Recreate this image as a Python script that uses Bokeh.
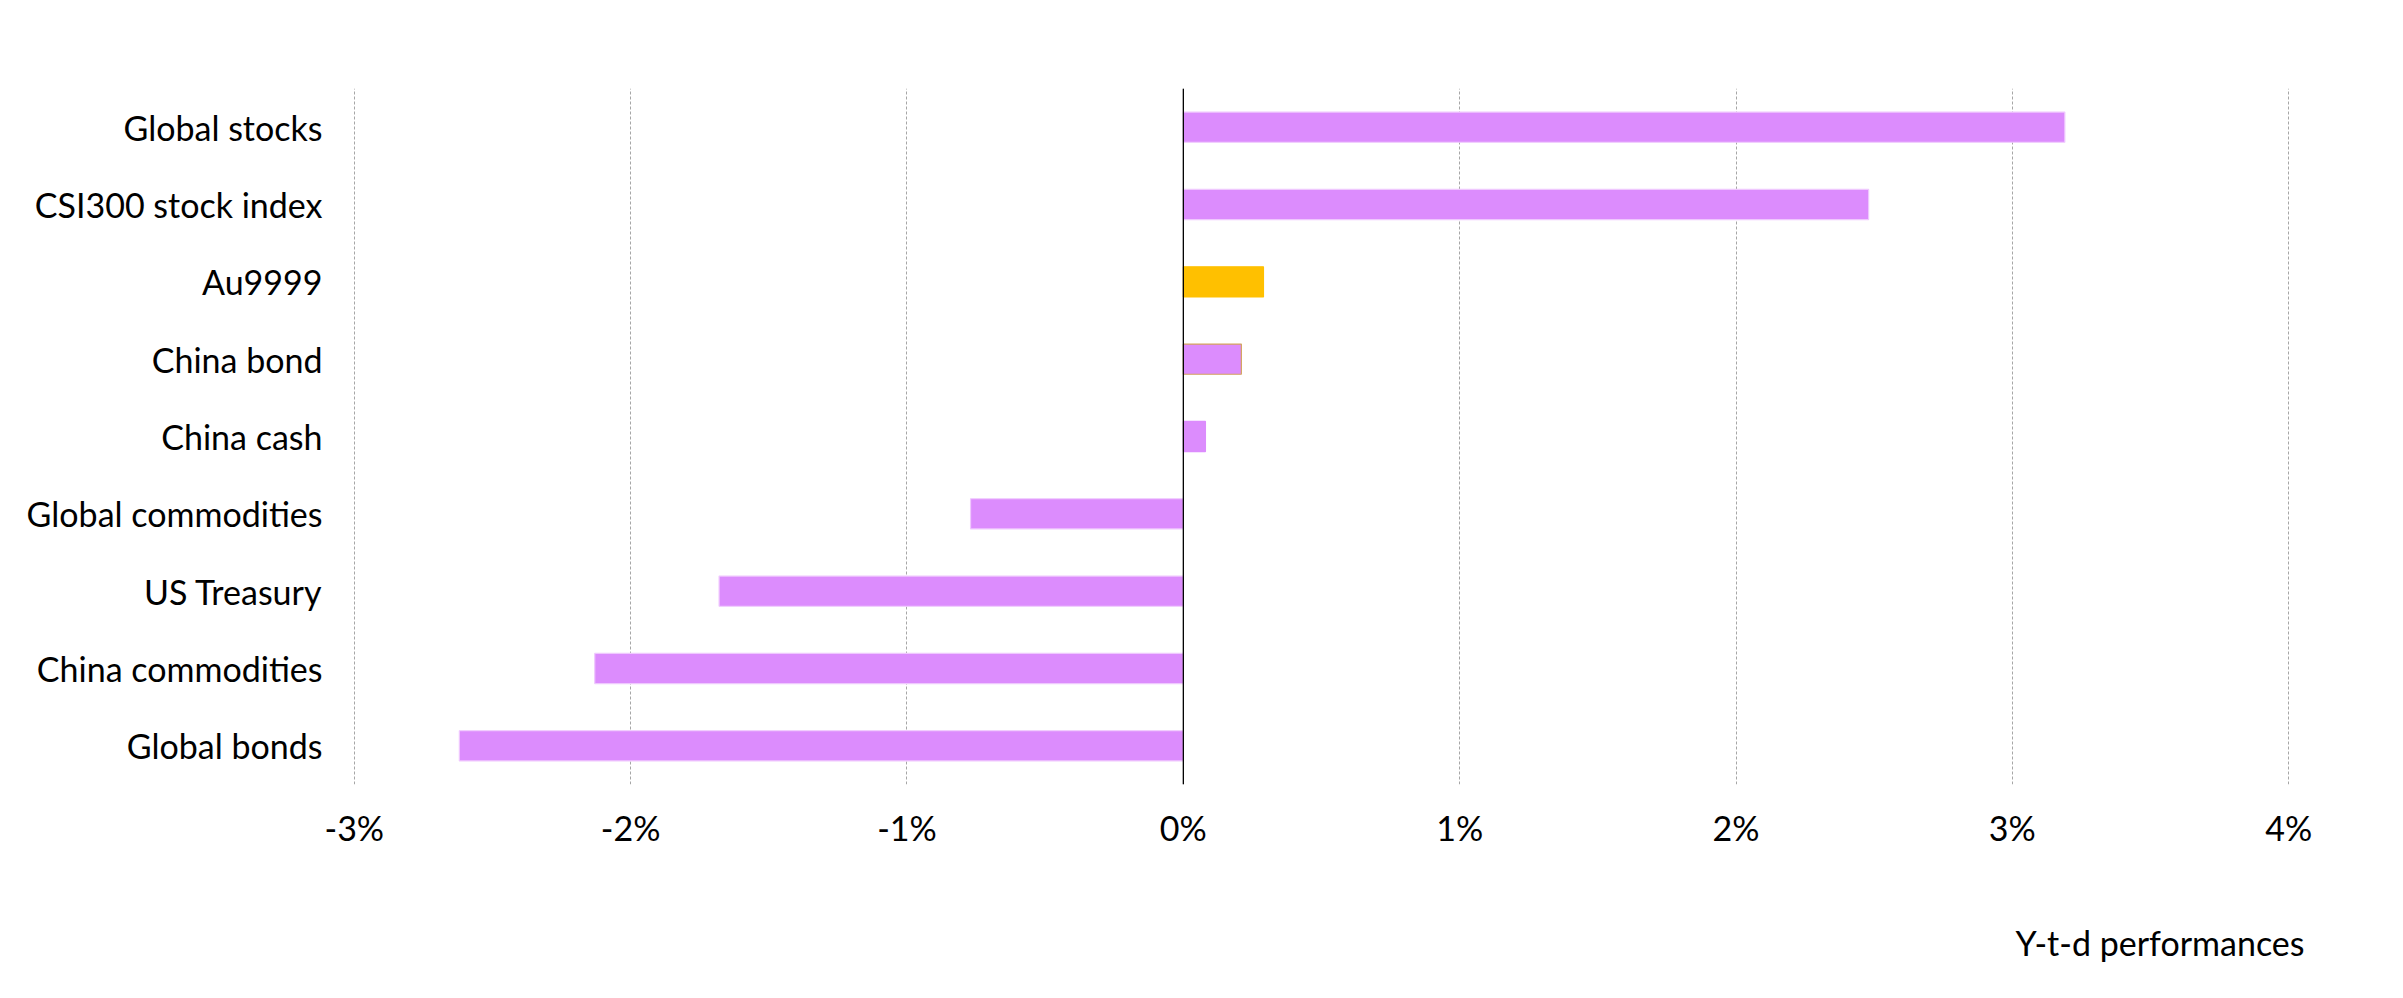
from bokeh.plotting import figure
from bokeh.models import ColumnDataSource, FactorRange, FixedTicker, Span, Title
from bokeh.embed import file_html
from bokeh.resources import INLINE

categories = ["Global stocks", "CSI300 stock index", "Au9999", "China bond", "China cash",
              "Global commodities", "US Treasury", "China commodities", "Global bonds"]
values = [3.19, 2.48, 0.29, 0.21, 0.08, -0.77, -1.68, -2.13, -2.62]
fill_colors = ["#DC8CFD", "#DC8CFD", "#FFC000", "#DC8CFD", "#DC8CFD",
               "#DC8CFD", "#DC8CFD", "#DC8CFD", "#DC8CFD"]
edge_colors = ["#EFC8FE", "#EFC8FE", "#FFC000", "#D4A35E", "#DC8CFD",
               "#EFC8FE", "#EFC8FE", "#EFC8FE", "#EFC8FE"]
tick_values = [-3, -2, -1, 0, 1, 2, 3, 4]
tick_labels = ["-3%", "-2%", "-1%", "0%", "1%", "2%", "3%", "4%"]
axis_title = "Y-t-d performances"

FONT = "Lato"
FS = "34px"

source = ColumnDataSource(dict(cat=categories, val=values, fill=fill_colors, edge=edge_colors))

p = figure(width=2387, height=982, output_backend="svg", toolbar_location=None,
           y_range=FactorRange(factors=list(reversed(categories))),
           x_range=(-3.003, 4.003),
           min_border_left=353, min_border_right=98, min_border_top=88, min_border_bottom=198)

p.hbar(y="cat", left=0, right="val", height=0.39, source=source,
       fill_color="fill", line_color="edge", line_width=1.2)

p.add_layout(Span(location=0, dimension="height", line_color="#000000", line_width=1.3))

p.outline_line_color = None
p.background_fill_color = "white"
p.border_fill_color = "white"

p.ygrid.grid_line_color = None
p.xgrid.grid_line_color = "#A6A6A6"
p.xgrid.grid_line_dash = "3 2"
p.xgrid.grid_line_width = 1
p.xgrid.ticker = FixedTicker(ticks=tick_values)

xa = p.xaxis[0]
xa.ticker = FixedTicker(ticks=tick_values)
xa.major_label_overrides = {v: l for v, l in zip(tick_values, tick_labels)}
xa.axis_line_color = None
xa.major_tick_line_color = None
xa.minor_tick_line_color = None
xa.major_tick_out = 0
xa.major_tick_in = 0
xa.major_label_text_font = FONT
xa.major_label_text_font_size = FS
xa.major_label_text_color = "#000000"
xa.major_label_standoff = 22

ya = p.yaxis[0]
ya.axis_line_color = None
ya.major_tick_line_color = None
ya.minor_tick_line_color = None
ya.major_tick_out = 0
ya.major_tick_in = 0
ya.major_label_text_font = FONT
ya.major_label_text_font_size = FS
ya.major_label_text_color = "#000000"
ya.major_label_standoff = 31

# blank spacer panel between the tick labels and the axis title
p.add_layout(Title(text=" ", text_font=FONT, text_font_size=FS, standoff=25), "below")
p.add_layout(Title(text=axis_title, align="right", text_font=FONT, text_font_size=FS,
                   text_font_style="normal", text_color="#000000", standoff=2, offset=-15),
             "below")

open("out.html", "w").write(file_html(p, INLINE))
